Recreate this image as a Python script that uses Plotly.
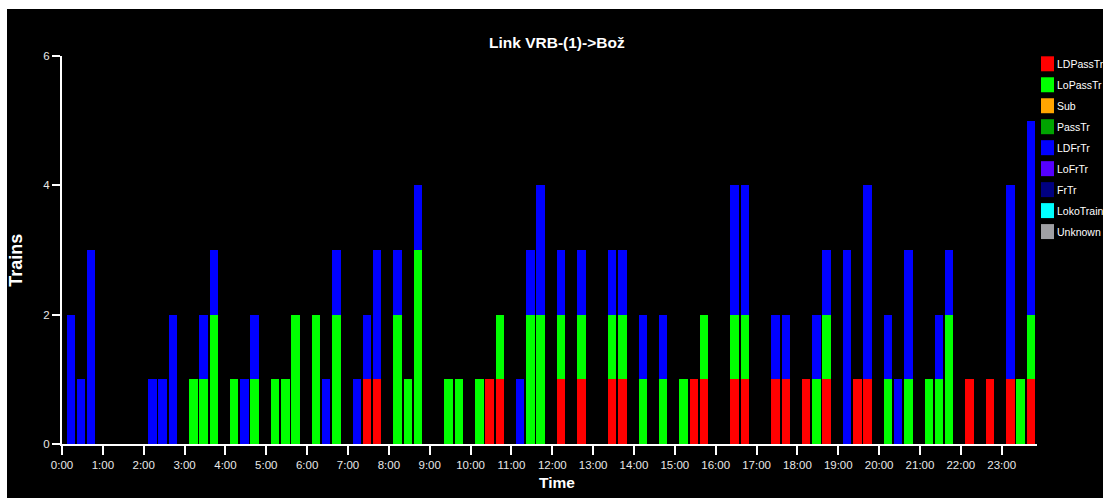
import plotly.graph_objects as go

# ---------------- data ----------------
title_text = "Link VRB-(1)->Bož"
series_names = ["LDPassTr", "LoPassTr", "Sub", "PassTr", "LDFrTr", "LoFrTr", "FrTr", "LokoTrain", "Unknown"]
series_colors = ["#ff0000", "#00ff00", "#ffa500", "#00a400", "#0000ff", "#5500ff", "#000080", "#00ffff", "#a0a0a4"]

# 96 quarter-hour slots (00:00 .. 23:45)
slot_minutes = list(range(0, 24 * 60, 15))

LDPassTr = ([0] * 24 +
            [0, 0, 0, 0, 0, 1, 1, 0, 0, 0, 0, 0, 0, 0, 0, 0, 0, 1, 1, 0, 0, 0, 0, 0] +
            [1, 0, 1, 0, 0, 1, 1, 0, 0, 0, 0, 0, 0, 1, 1, 0, 0, 1, 1, 0, 0, 1, 1, 0] +
            [1, 0, 1, 0, 0, 1, 1, 0, 0, 0, 0, 0, 0, 0, 0, 0, 1, 0, 1, 0, 1, 0, 1, 0])
LoPassTr = ([0, 0, 0, 0, 0, 0, 0, 0, 0, 0, 0, 0, 1, 1, 2, 0, 1, 0, 1, 0, 1, 1, 2, 0] +
            [2, 0, 2, 0, 0, 0, 0, 0, 2, 1, 3, 0, 0, 1, 1, 0, 1, 0, 1, 0, 0, 2, 2, 0] +
            [1, 0, 1, 0, 0, 1, 1, 0, 1, 0, 1, 0, 1, 0, 1, 0, 0, 1, 1, 0, 0, 0, 0, 0] +
            [0, 1, 1, 0, 0, 0, 0, 0, 1, 0, 1, 0, 1, 1, 2, 0, 0, 0, 0, 0, 0, 1, 1, 0])
Sub = [0] * 96
PassTr = [0] * 96
LDFrTr = ([2, 1, 3, 0, 0, 0, 0, 0, 1, 1, 2, 0, 0, 1, 1, 0, 0, 1, 1, 0, 0, 0, 0, 0] +
          [0, 1, 1, 0, 1, 1, 2, 0, 1, 0, 1, 0, 0, 0, 0, 0, 0, 0, 0, 0, 1, 1, 2, 0] +
          [1, 0, 1, 0, 0, 1, 1, 0, 1, 0, 1, 0, 0, 0, 0, 0, 0, 2, 2, 0, 0, 1, 1, 0] +
          [0, 1, 1, 0, 3, 0, 3, 0, 1, 1, 2, 0, 0, 1, 1, 0, 0, 0, 0, 0, 3, 0, 3, 0])
LoFrTr = [0] * 96
FrTr = [0] * 96
LokoTrain = [0] * 96
Unknown = [0] * 96
series_values = [LDPassTr, LoPassTr, Sub, PassTr, LDFrTr, LoFrTr, FrTr, LokoTrain, Unknown]

hour_ticks = list(range(0, 24))
hour_labels = [f"{h}:00" for h in hour_ticks]
y_ticks = [0, 2, 4, 6]

# ---------------- styling ----------------
OFF_X, OFF_Y = 7, 9          # page offset of the figure (white strip left / top)
W, H = 1103 - OFF_X, 498 - OFF_Y
PLOT_L, PLOT_R, PLOT_T, PLOT_B = 62, 1037, 55.5, 444   # plot area in page pixels
L, R = PLOT_L - OFF_X, (OFF_X + W) - PLOT_R
T, B = PLOT_T - OFF_Y, (OFF_Y + H) - PLOT_B
PW, PH = W - L - R, H - T - B
FONT = "Liberation Sans, Arial, sans-serif"
BAR_OFFSET_H = 0.215   # bar centre within its quarter-hour slot (hours)
BAR_WIDTH_H = 0.208
X_MAX_H = 23.864


def px(x):
    return (x - OFF_X - L) / PW


def py(y):
    return (H - B - (y - OFF_Y)) / PH


x_hours = [m / 60 + BAR_OFFSET_H for m in slot_minutes]

fig = go.Figure()
for name, color, vals in zip(series_names, series_colors, series_values):
    fig.add_trace(go.Bar(
        x=x_hours, y=vals, name=name, width=BAR_WIDTH_H,
        marker=dict(color=color, line=dict(width=0)),
        showlegend=False,
        hovertemplate=name + ": %{y}<extra></extra>",
    ))

shapes = []
annotations = []

# legend (drawn as squares + labels)
for k, (name, color) in enumerate(zip(series_names, series_colors)):
    cy = 63.3 + 21 * k
    shapes.append(dict(type="rect", xref="paper", yref="paper",
                       x0=px(1041), x1=px(1054), y0=py(cy + 7.5), y1=py(cy - 7.5),
                       fillcolor=color, line=dict(width=0)))
    annotations.append(dict(text=name, xref="paper", yref="paper",
                            x=px(1055), y=py(cy), xanchor="left", yanchor="middle",
                            showarrow=False, font=dict(family=FONT, size=10.5, color="white")))

annotations.append(dict(text="<b>" + title_text + "</b>", xref="paper", yref="paper",
                        x=px(557), y=py(42), xanchor="center", yanchor="middle",
                        showarrow=False, font=dict(family=FONT, size=15.5, color="white")))
annotations.append(dict(text="<b>Time</b>", xref="paper", yref="paper",
                        x=px(556.7), y=py(483), xanchor="center", yanchor="middle",
                        showarrow=False, font=dict(family=FONT, size=15.5, color="white")))
annotations.append(dict(text="<b>Trains</b>", xref="paper", yref="paper", textangle=-90,
                        x=px(16.5), y=py(260), xanchor="center", yanchor="middle",
                        showarrow=False, font=dict(family=FONT, size=18, color="white")))

fig.update_layout(
    width=W, height=H,
    margin=dict(l=L, r=R, t=T, b=B, pad=0),
    paper_bgcolor="black", plot_bgcolor="black",
    barmode="stack", bargap=0,
    shapes=shapes, annotations=annotations,
    showlegend=False,
    xaxis=dict(range=[0, X_MAX_H], tickvals=hour_ticks, ticktext=hour_labels,
               showgrid=False, zeroline=False, showline=True, linecolor="white", linewidth=2,
               ticks="outside", ticklen=9, tickwidth=2, tickcolor="white",
               tickfont=dict(family=FONT, size=11.5, color="#e8e8e8"), fixedrange=True),
    yaxis=dict(range=[0, 6], tickvals=y_ticks,
               showgrid=False, zeroline=False, showline=True, linecolor="white", linewidth=2,
               ticks="outside", ticklen=8, tickwidth=2, tickcolor="white",
               tickfont=dict(family=FONT, size=11.5, color="#e8e8e8"), fixedrange=True),
)

fig.write_html(
    "out.html", include_plotlyjs=True, config={"displayModeBar": False},
    post_script=(
        "document.documentElement.style.overflow='hidden';"
        "document.body.style.overflow='hidden';"
        "document.body.style.margin='%dpx 0 0 %dpx';" % (OFF_Y, OFF_X)
    ),
)
